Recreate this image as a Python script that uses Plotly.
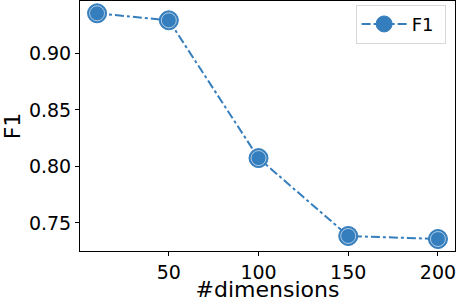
import plotly.graph_objects as go

dims = [10, 50, 100, 150, 200]
f1 = [0.9355, 0.9293, 0.8074, 0.7385, 0.7358]
x_ticks = [50, 100, 150, 200]
y_ticks = [0.75, 0.80, 0.85, 0.90]
y_tick_labels = ["0.75", "0.80", "0.85", "0.90"]

blue = "#357ebd"

fig = go.Figure()
fig.add_trace(go.Scatter(
    x=dims, y=f1, mode="lines+markers", name="F1 ",
    line=dict(color=blue, width=2, dash="dashdot"),
    marker=dict(color=blue, size=19, line=dict(color=blue, width=1)),
))
fig.add_trace(go.Scatter(
    x=dims, y=f1, mode="markers", showlegend=False, hoverinfo="skip",
    marker=dict(color=blue, size=15, line=dict(color="white", width=0.6)),
))

axis_common = dict(
    showline=True, linecolor="black", linewidth=1, mirror=True,
    ticks="outside", ticklen=4, tickcolor="black", showgrid=False, zeroline=False,
    ticklabeloverflow="allow",
)
fig.update_layout(
    width=456, height=302,
    margin=dict(l=80, r=1, t=1, b=51),
    paper_bgcolor="white", plot_bgcolor="white",
    font=dict(family="DejaVu Sans", color="black"),
    xaxis=dict(range=[0.5, 209.5], tickvals=x_ticks, tickfont=dict(size=19),
               title=dict(text="#dimensions", font=dict(size=22), standoff=1), **axis_common),
    yaxis=dict(range=[0.7252, 0.9464], tickvals=y_ticks, ticktext=y_tick_labels,
               tickfont=dict(size=19),
               title=dict(text="F1", font=dict(size=22), standoff=5), **axis_common),
    legend=dict(x=0.975, y=0.985, xanchor="right", yanchor="top",
                bordercolor="#d8d8d8", borderwidth=1, bgcolor="white",
                itemwidth=45, font=dict(size=18)),
    showlegend=True,
)
fig.write_html("out.html", config={"displayModeBar": False},
               post_script="document.body.style.margin='0';document.body.style.overflow='hidden';")
